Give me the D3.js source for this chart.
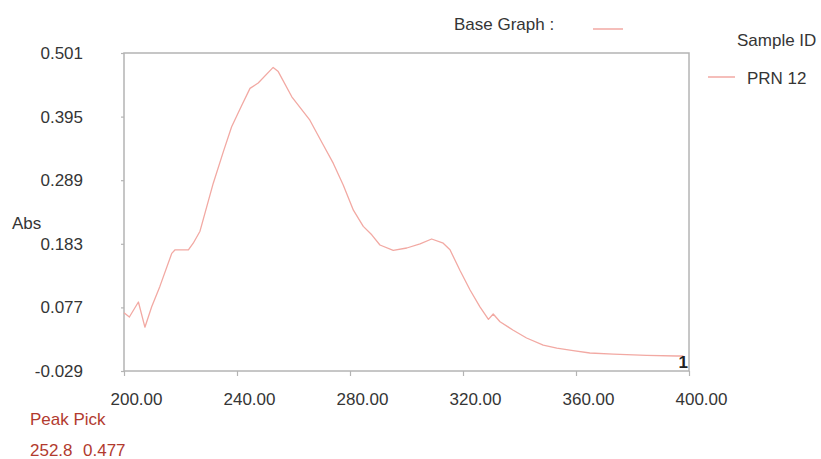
<!DOCTYPE html>
<html>
<head>
<meta charset="utf-8">
<script src="https://cdn.jsdelivr.net/npm/d3@7"></script>
<style>
  html, body { margin: 0; padding: 0; background: #fff; }
  svg { display: block; font-family: "Liberation Sans", Arial, sans-serif; }
</style>
</head>
<body>
<svg id="chart" width="821" height="459"></svg>
<script>
// ---- data ----
const wavelength = [200.0, 201.9, 205.1, 207.4, 209.8, 212.7, 216.9, 218.1, 222.8, 224.5, 226.9,
  231.6, 235.2, 238.1, 241.7, 244.6, 247.5, 252.8, 254.6, 259.4, 265.8, 270.5, 274.1, 277.6, 281.2,
  284.7, 287.7, 290.6, 295.3, 300.1, 304.8, 308.9, 313.0, 315.4, 318.9, 322.5, 326.0, 329.0, 330.7,
  333.1, 337.8, 342.5, 348.4, 353.2, 359.0, 364.9, 373.2, 385.0, 395.6, 398.0];
const absorbance = [0.068, 0.061, 0.086, 0.044, 0.078, 0.112, 0.167, 0.173, 0.173, 0.184, 0.204,
  0.284, 0.337, 0.378, 0.414, 0.442, 0.451, 0.477, 0.470, 0.428, 0.389, 0.348, 0.317, 0.281, 0.239,
  0.212, 0.198, 0.181, 0.172, 0.176, 0.183, 0.191, 0.184, 0.173, 0.139, 0.106, 0.078, 0.057, 0.066,
  0.053, 0.039, 0.026, 0.014, 0.009, 0.005, 0.001, -0.001, -0.003, -0.004, -0.004];
const xTicks = [200, 240, 280, 320, 360, 400];
const yTicks = [-0.029, 0.077, 0.183, 0.289, 0.395, 0.501];
const xDomain = [200, 400];
const yDomain = [-0.029, 0.501];
const seriesName = "PRN 12";
const peakPick = ["252.8", "0.477"];

// ---- layout ----
const svg = d3.select("#chart");
const m = { left: 124, top: 53, right: 689, bottom: 371 };
const lineColor = "#f2a9a3";
const textColor = "#353535";
const frameColor = "#b4b4b4";
const fontSize = 17;

const x = d3.scaleLinear().domain(xDomain).range([m.left, m.right]);
const y = d3.scaleLinear().domain(yDomain).range([m.bottom, m.top]);

// frame
svg.append("rect")
  .attr("x", m.left).attr("y", m.top)
  .attr("width", m.right - m.left).attr("height", m.bottom - m.top)
  .attr("fill", "none").attr("stroke", frameColor).attr("stroke-width", 1.5);

// x axis
const xAxis = svg.append("g")
  .attr("transform", `translate(0,${m.bottom})`)
  .call(d3.axisBottom(x).tickValues(xTicks).tickFormat(d3.format(".2f")).tickSize(5).tickPadding(17));
xAxis.select(".domain").remove();
xAxis.selectAll(".tick line").attr("stroke", frameColor).attr("stroke-width", 1.2);
xAxis.selectAll(".tick text").attr("fill", textColor).attr("font-size", fontSize)
  .attr("font-family", "Liberation Sans, Arial, sans-serif").attr("dx", 12);

// y axis (hyphen-minus, as in the reference)
const yFmt = v => d3.format(".3f")(v).replace("\u2212", "-");
const yAxis = svg.append("g")
  .attr("transform", `translate(${m.left},0)`)
  .call(d3.axisLeft(y).tickValues(yTicks).tickFormat(yFmt).tickSize(3).tickPadding(38));
yAxis.select(".domain").remove();
yAxis.selectAll(".tick line").attr("stroke", frameColor).attr("stroke-width", 1.2);
yAxis.selectAll(".tick text").attr("fill", textColor).attr("font-size", fontSize)
  .attr("font-family", "Liberation Sans, Arial, sans-serif");

// axis title
svg.append("text").attr("x", 12).attr("y", 229).attr("fill", textColor)
  .attr("font-size", fontSize).text("Abs");

// spectrum line
const pts = wavelength.map((w, i) => [w, absorbance[i]]);
svg.append("path").datum(pts)
  .attr("fill", "none").attr("stroke", lineColor).attr("stroke-width", 1.3)
  .attr("stroke-linejoin", "round")
  .attr("d", d3.line().x(d => x(d[0])).y(d => y(d[1])));

// curve index label
svg.append("text").attr("x", x(400) - 1).attr("y", 368).attr("text-anchor", "end")
  .attr("fill", "#222").attr("font-size", fontSize).attr("font-weight", "bold").text("1");

// legend
svg.append("text").attr("x", 454).attr("y", 30).attr("fill", textColor)
  .attr("font-size", fontSize).text("Base Graph :");
svg.append("line").attr("x1", 593).attr("x2", 623).attr("y1", 29).attr("y2", 29)
  .attr("stroke", lineColor).attr("stroke-width", 1.5);
svg.append("text").attr("x", 737).attr("y", 46).attr("fill", textColor)
  .attr("font-size", fontSize).text("Sample ID");
svg.append("line").attr("x1", 708).attr("x2", 735).attr("y1", 77).attr("y2", 77)
  .attr("stroke", lineColor).attr("stroke-width", 1.5);
svg.append("text").attr("x", 747).attr("y", 84).attr("fill", textColor)
  .attr("font-size", fontSize).text(seriesName);

// peak pick
const red = "#b23a2e";
svg.append("text").attr("x", 30).attr("y", 425).attr("fill", red)
  .attr("font-size", fontSize).text("Peak Pick");
svg.append("text").attr("x", 30).attr("y", 456).attr("fill", red)
  .attr("font-size", fontSize).text(peakPick[0]);
svg.append("text").attr("x", 83).attr("y", 456).attr("fill", red)
  .attr("font-size", fontSize).text(peakPick[1]);
</script>
</body>
</html>
